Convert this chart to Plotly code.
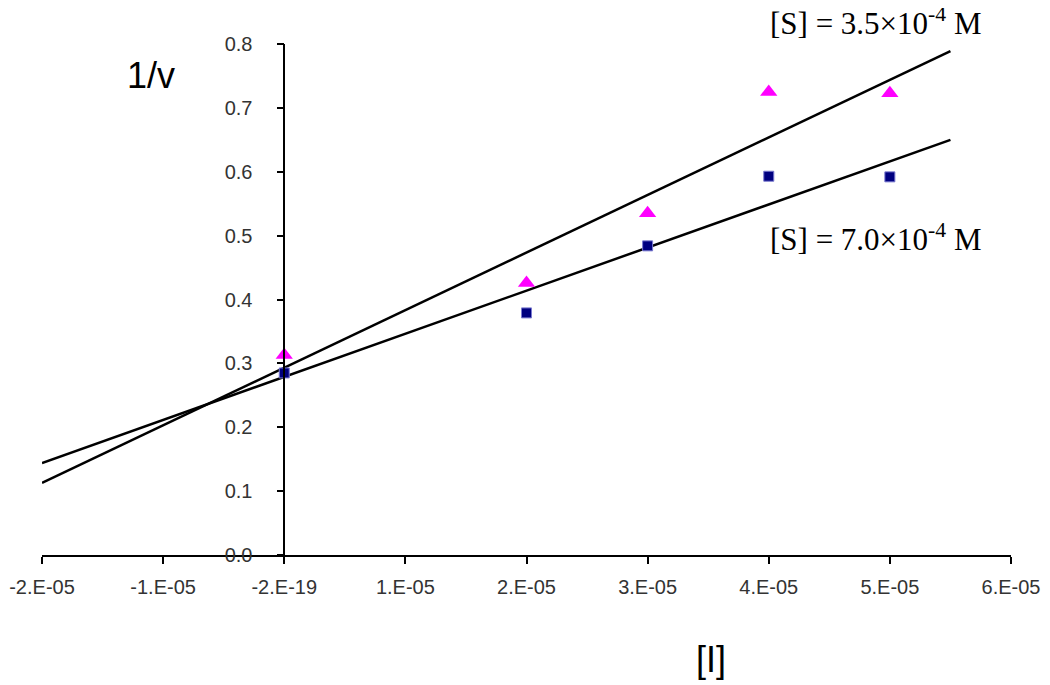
import plotly.graph_objects as go

# --- data ---
inhibitor = [0.0, 2e-05, 3e-05, 4e-05, 5e-05]
inv_v_low_s = [0.313, 0.426, 0.535, 0.725, 0.723]    # [S] = 3.5e-4 M
inv_v_high_s = [0.285, 0.379, 0.484, 0.593, 0.592]   # [S] = 7.0e-4 M

trend_x = [-2e-05, 5.5e-05]
trend_low_s = [0.113, 0.789]
trend_high_s = [0.144, 0.650]

x_tickvals = [-2e-05, -1e-05, 0.0, 1e-05, 2e-05, 3e-05, 4e-05, 5e-05, 6e-05]
x_ticktext = ["-2.E-05", "-1.E-05", "-2.E-19", "1.E-05", "2.E-05",
              "3.E-05", "4.E-05", "5.E-05", "6.E-05"]
y_tickvals = [0.0, 0.1, 0.2, 0.3, 0.4, 0.5, 0.6, 0.7, 0.8]
y_ticktext = ["0.0", "0.1", "0.2", "0.3", "0.4", "0.5", "0.6", "0.7", "0.8"]

x_min, x_max = -2e-05, 6e-05

fig = go.Figure()

fig.add_trace(go.Scatter(x=trend_x, y=trend_low_s, mode="lines",
                         line=dict(color="black", width=2.5), showlegend=False))
fig.add_trace(go.Scatter(x=trend_x, y=trend_high_s, mode="lines",
                         line=dict(color="black", width=2.5), showlegend=False))
fig.add_trace(go.Scatter(x=inhibitor, y=inv_v_low_s, mode="markers",
                         marker=dict(symbol="triangle-up", size=15, color="#ff00ff"),
                         showlegend=False))
fig.add_trace(go.Scatter(x=inhibitor, y=inv_v_high_s, mode="markers",
                         marker=dict(symbol="square", size=10, color="#000080",
                                     line=dict(color="#7a7ad0", width=1)),
                         showlegend=False))

tick_font = dict(family="Arial, Liberation Sans, sans-serif", size=20, color="#333333")
label_font = dict(family="Liberation Serif, Times New Roman, serif", size=31, color="black")
axis_title_font = dict(family="Arial, Liberation Sans, sans-serif", size=36, color="black")

# page body has an 8px margin, so the figure is sized/offset to compensate
fig.update_layout(
    width=1042, height=677,
    paper_bgcolor="white", plot_bgcolor="white",
    margin=dict(l=34, r=39, t=36, b=130, autoexpand=False),
    xaxis=dict(range=[x_min, x_max], tickvals=x_tickvals, ticktext=x_ticktext,
               showgrid=False, zeroline=False, showline=True, linecolor="black",
               linewidth=1.5, ticks="outside", ticklen=7, tickwidth=1.5,
               tickcolor="black", tickfont=tick_font, ticklabelstandoff=6),
    yaxis=dict(range=[0, 0.8], tickvals=y_tickvals, ticktext=y_ticktext,
               showgrid=False, zeroline=False, showline=True, linecolor="black",
               linewidth=1.5, ticks="outside", ticklen=7, tickwidth=1.5,
               tickcolor="black", tickfont=tick_font, ticklabelstandoff=20,
               anchor="free", position=(0 - x_min) / (x_max - x_min)),
    annotations=[
        dict(text="1/v", xref="paper", yref="paper", x=0.113, y=0.939,
             xanchor="center", yanchor="middle", showarrow=False, font=axis_title_font),
        dict(text="[I]", xref="paper", yref="paper", x=0.69, y=-0.205,
             xanchor="center", yanchor="middle", showarrow=False, font=axis_title_font),
        dict(text="[S] = 3.5×10<sup>-4</sup> M", xref="paper", yref="paper",
             x=0.749, y=1.044, xanchor="left", yanchor="middle",
             showarrow=False, font=label_font),
        dict(text="[S] = 7.0×10<sup>-4</sup> M", xref="paper", yref="paper",
             x=0.749, y=0.622, xanchor="left", yanchor="middle",
             showarrow=False, font=label_font),
    ],
)

fig.write_html("out.html")
